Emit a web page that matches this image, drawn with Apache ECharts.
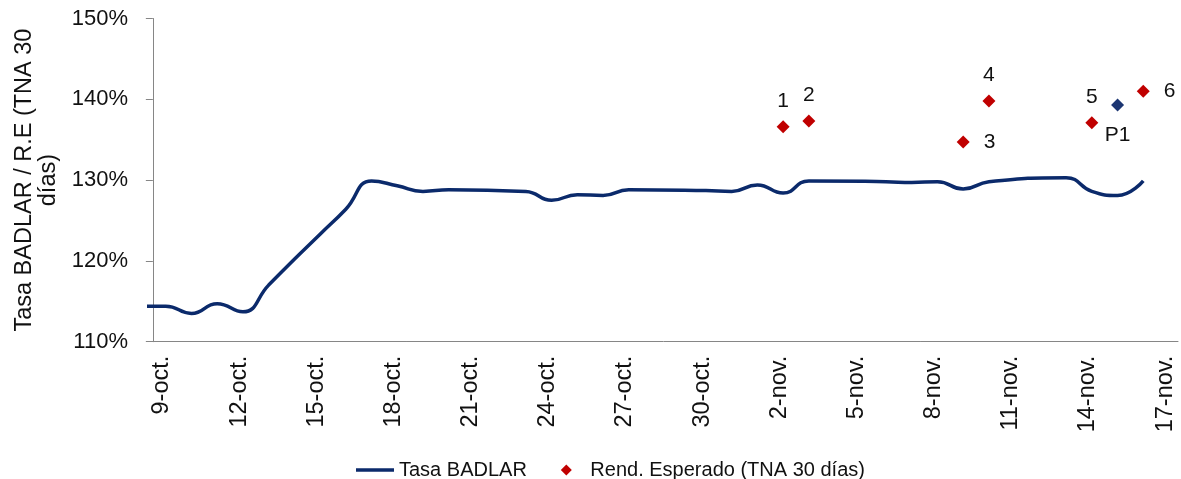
<!DOCTYPE html>
<html>
<head>
<meta charset="utf-8">
<script src="https://cdn.jsdelivr.net/npm/echarts@6/dist/echarts.min.js"></script>
<style>
  html, body { margin: 0; padding: 0; background: #fff; }
  #grafico { width: 1181px; height: 479px; }
</style>
</head>
<body>
<div id="grafico"></div>
<script>
// fechas del eje (una por dia, etiqueta cada 3)
var fechas = ['9-oct.', '10-oct.', '11-oct.', '12-oct.', '13-oct.', '14-oct.', '15-oct.', '16-oct.',
  '17-oct.', '18-oct.', '19-oct.', '20-oct.', '21-oct.', '22-oct.', '23-oct.', '24-oct.', '25-oct.',
  '26-oct.', '27-oct.', '28-oct.', '29-oct.', '30-oct.', '31-oct.', '1-nov.', '2-nov.', '3-nov.',
  '4-nov.', '5-nov.', '6-nov.', '7-nov.', '8-nov.', '9-nov.', '10-nov.', '11-nov.', '12-nov.',
  '13-nov.', '14-nov.', '15-nov.', '16-nov.', '17-nov.'];

// Tasa BADLAR: la serie empieza el 6-oct (3 dias antes del eje), null = sin dato
var badlarDesde = -3;
var badlar = [114.4, null, null,
  114.4, 113.5, 114.7, 113.7, 117.0, 120.2, 123.3, 126.4, 129.9, 129.3, 128.6, 128.8, null, null,
  128.6, 127.5, 128.2, 128.1, 128.8, null, null, 128.7, 128.6, 129.4, 128.4, 129.9, null, null,
  129.8, 129.7, 129.8, 128.9, 129.8, null, null, 130.3, 128.6, 128.1, 129.9];

// Rendimiento esperado (TNA 30 dias)
var rendFechas = ['2-nov.', '3-nov.', '9-nov.', '10-nov.', '14-nov.', '16-nov.'];
var rendValores = [136.6, 137.3, 134.7, 139.8, 137.1, 141.0];
var rendEtiquetas = ['1', '2', '3', '4', '5', '6'];

var p1Fecha = '15-nov.';
var p1Valor = 139.3;

var yTicks = [110, 120, 130, 140, 150];

var fuente = "'Liberation Sans', Arial, sans-serif";
var colorTexto = '#111111';
var colorEje = '#868686';
var azul = '#0b2a6b';
var rojo = '#c00000';

// donde va cada etiqueta de los puntos
var posEtiqueta = { '3': 'right', '6': 'right' };

var lineaData = [];
for (var i = 0; i < badlar.length; i++) {
  if (badlar[i] == null) continue;
  lineaData.push([i + badlarDesde + 0.5, badlar[i]]);
}

var rendData = [];
for (var j = 0; j < rendFechas.length; j++) {
  var pos = posEtiqueta[rendEtiquetas[j]] || 'top';
  rendData.push({
    value: [fechas.indexOf(rendFechas[j]) + 0.5, rendValores[j]],
    name: rendEtiquetas[j],
    label: { position: pos, distance: pos == 'top' ? 9 : 14, color: colorTexto }
  });
}

var chart = echarts.init(document.getElementById('grafico'));
var options = {
  animation: false,
  textStyle: { fontFamily: fuente },
  grid: { left: 149, right: 3, top: 18.5, bottom: 137.3, containLabel: false },
  legend: {
    data: [
      { name: 'Tasa BADLAR', icon: 'path://M0,0 L38,0 L38,3.5 L0,3.5 Z' },
      { name: 'Rend. Esperado (TNA 30 días)', icon: 'path://M5,0 L10,5 L5,10 L0,5 Z' }
    ],
    left: 351,
    top: 455,
    itemWidth: 38,
    itemHeight: 11,
    itemGap: 34,
    symbolKeepAspect: true,
    textStyle: { fontSize: 20, color: colorTexto, fontFamily: fuente }
  },
  xAxis: [{
    type: 'category',
    data: fechas,
    boundaryGap: true,
    axisLine: { lineStyle: { color: colorEje, width: 1 } },
    axisTick: { interval: 2, length: 7, lineStyle: { color: colorEje } },
    axisLabel: {
      interval: 2, rotate: 90, margin: 14,
      fontSize: 23.5, color: colorTexto, fontFamily: fuente
    },
    splitLine: { show: false }
  }, {
    // eje oculto para ubicar la serie (los puntos caen un poco a la derecha del centro del dia)
    type: 'value',
    min: -0.15,
    max: fechas.length - 0.15,
    show: false
  }],
  yAxis: {
    type: 'value',
    min: yTicks[0],
    max: yTicks[yTicks.length - 1],
    interval: 10,
    name: 'Tasa BADLAR / R.E (TNA 30\ndías)',
    nameLocation: 'middle',
    nameGap: 84,
    nameTextStyle: { fontSize: 23.5, color: colorTexto, fontFamily: fuente, lineHeight: 24 },
    axisLine: { show: true, lineStyle: { color: colorEje, width: 1 } },
    axisTick: { show: true, length: 7, lineStyle: { color: colorEje } },
    axisLabel: {
      margin: 21, fontSize: 22, color: colorTexto, fontFamily: fuente,
      formatter: '{value}%'
    },
    splitLine: { show: false }
  },
  series: [{
    name: 'Tasa BADLAR',
    type: 'line',
    xAxisIndex: 1,
    data: lineaData,
    smooth: 0.5,
    symbol: 'none',
    showSymbol: false,
    clip: true,
    lineStyle: { color: azul, width: 3.5 },
    itemStyle: { color: azul }
  }, {
    name: 'Rend. Esperado (TNA 30 días)',
    type: 'scatter',
    xAxisIndex: 1,
    symbol: 'diamond',
    symbolSize: 13,
    itemStyle: { color: rojo, opacity: 1 },
    label: {
      show: true,
      formatter: '{b}',
      fontSize: 21,
      color: colorTexto,
      fontFamily: fuente
    },
    data: rendData
  }, {
    name: 'P1',
    type: 'scatter',
    xAxisIndex: 1,
    symbol: 'diamond',
    symbolSize: 13,
    itemStyle: { color: '#1c3672', opacity: 1 },
    label: {
      show: true,
      position: 'bottom',
      distance: 13,
      formatter: 'P1',
      fontSize: 21,
      color: colorTexto,
      fontFamily: fuente
    },
    data: [[fechas.indexOf(p1Fecha) + 0.5, p1Valor]]
  }]
};
chart.setOption(options);
</script>
</body>
</html>
